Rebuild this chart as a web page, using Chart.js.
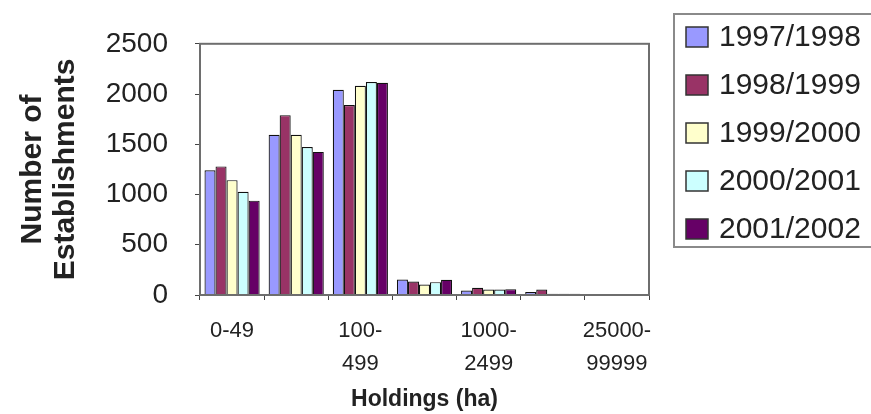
<!DOCTYPE html>
<html>
<head>
<meta charset="utf-8">
<script src="https://cdn.jsdelivr.net/npm/chart.js@4/dist/chart.umd.min.js"></script>
<style>
  html, body { margin: 0; padding: 0; background: #fff; }
  #wrap { width: 871px; height: 414px; position: relative; }
</style>
</head>
<body>
<div id="wrap"><canvas id="c"></canvas></div>
<script>
const categories = ['0-49', '50-99', '100-499', '500-999', '1000-2499', '2500-24999', '25000-99999'];
const tickLabels = [['0-49'], '', ['100-', '499'], '', ['1000-', '2499'], '', ['25000-', '99999']];
const seriesNames = ['1997/1998', '1998/1999', '1999/2000', '2000/2001', '2001/2002'];
const s1997 = [1241, 1595, 2043, 155, 45, 30, 5];
const s1998 = [1280, 1790, 1890, 135, 72, 55, 4];
const s1999 = [1143, 1595, 2082, 105, 55, 12, 3];
const s2000 = [1027, 1473, 2119, 128, 55, 12, 3];
const s2001 = [939, 1424, 2113, 152, 58, 12, 3];
const yTicks = [0, 500, 1000, 1500, 2000, 2500];
const colors = ['#9999ff', '#993366', '#ffffcc', '#ccffff', '#660066'];

const FONT = "'Liberation Sans', Arial, sans-serif";
const seriesValues = [s1997, s1998, s1999, s2000, s2001];

const frame = {
  id: 'frame',
  afterDatasetsDraw(chart) {
    const {ctx, chartArea: a} = chart;
    ctx.save();
    ctx.strokeStyle = '#6e6e6e';
    ctx.lineWidth = 2;
    ctx.strokeRect(a.left, a.top, a.right - a.left, a.bottom - a.top);
    ctx.restore();
  }
};

const boxLegend = {
  id: 'boxLegend',
  afterDraw(chart) {
    const {ctx, chartArea: a} = chart;
    const x0 = a.right + 25, y0 = 14, h = 233;
    ctx.save();
    ctx.strokeStyle = '#8a8a8a';
    ctx.lineWidth = 2;
    ctx.strokeRect(x0, y0, 240, h);
    ctx.font = '30px ' + FONT;
    ctx.textBaseline = 'middle';
    ctx.textAlign = 'left';
    chart.data.datasets.forEach((ds, i) => {
      const cy = 37 + i * 48;
      ctx.fillStyle = ds.backgroundColor;
      ctx.fillRect(x0 + 12, cy - 10, 22, 20);
      ctx.strokeStyle = '#333';
      ctx.lineWidth = 1.5;
      ctx.strokeRect(x0 + 12, cy - 10, 22, 20);
      ctx.fillStyle = '#222';
      ctx.fillText(ds.label, x0 + 45, cy + 1);
    });
    ctx.restore();
  }
};

new Chart(document.getElementById('c'), {
  type: 'bar',
  data: {
    labels: categories,
    datasets: seriesNames.map((n, i) => ({
      label: n,
      data: seriesValues[i],
      backgroundColor: colors[i],
      borderColor: '#111',
      borderWidth: 1.2,
      categoryPercentage: 0.86,
      barPercentage: 1.0
    }))
  },
  options: {
    responsive: true,
    maintainAspectRatio: false,
    animation: false,
    devicePixelRatio: 1,
    layout: { padding: { left: 0, top: 22, right: 222, bottom: 0 } },
    plugins: { legend: { display: false }, tooltip: { enabled: false } },
    scales: {
      x: {
        grid: { drawOnChartArea: false, drawTicks: true, tickLength: 5, color: '#444', offset: true },
        border: { display: false },
        ticks: {
          autoSkip: false,
          maxRotation: 0,
          padding: 14,
          color: '#222',
          font: { family: FONT, size: 22, lineHeight: 1.5 },
          callback: (v, i) => tickLabels[i]
        },
        title: {
          display: true,
          text: 'Holdings (ha)',
          color: '#222',
          font: { family: FONT, size: 23, weight: 'bold', lineHeight: 1.2 },
          padding: { top: 0, bottom: 1 }
        },
        afterFit(scale) { scale.height = 119; }
      },
      y: {
        min: 0,
        max: 2500,
        afterBuildTicks(scale) { scale.ticks = yTicks.map(v => ({ value: v })); },
        grid: { drawOnChartArea: false, drawTicks: true, tickLength: 5, color: '#444' },
        border: { display: false },
        ticks: {
          padding: 27,
          color: '#222',
          font: { family: FONT, size: 28 },
          callback: v => String(v)
        },
        title: {
          display: true,
          text: ['Number of', 'Establishments'],
          color: '#222',
          font: { family: FONT, size: 30, weight: 'bold', lineHeight: 1.1 },
          padding: { top: 16, bottom: 0 }
        },
        afterFit(scale) { scale.width = 200; }
      }
    }
  },
  plugins: [frame, boxLegend]
});
</script>
</body>
</html>
